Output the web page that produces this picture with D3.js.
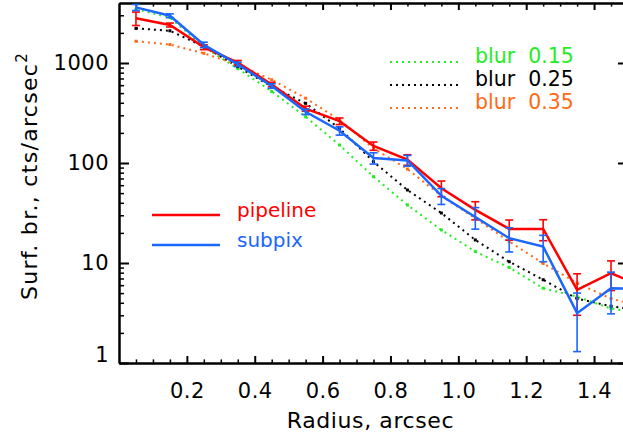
<!DOCTYPE html>
<html>
<head>
<meta charset="utf-8">
<script src="https://cdn.jsdelivr.net/npm/d3@7"></script>
<style>
  html, body { margin: 0; padding: 0; background: #fff; overflow: hidden; }
  text { font-family: "DejaVu Sans", sans-serif; }
</style>
</head>
<body>
<svg id="chart" width="623" height="436"></svg>
<script>
// Radial bin centres (arcsec)
const radius = [0.05, 0.15, 0.25, 0.35, 0.45, 0.55, 0.65, 0.75, 0.85, 0.95, 1.05, 1.15, 1.25, 1.35, 1.45, 1.55];

// Measured surface-brightness profiles with 1-sigma errors
const pipeline    = [2800, 2400, 1440, 1010, 610, 350, 262, 148, 108, 56, 34, 21.9, 21.9, 5.4, 7.9, 5.7];
const pipelineErr = [430, 110, 80, 50, 30, 20, 20, 14, 13, 10, 7, 5, 5.2, 2.4, 2.6, 2.5];
const subpix      = [3600, 2970, 1520, 970, 590, 325, 210, 112, 106, 47, 28.8, 17.7, 14.6, 3.15, 5.6, 5.5];
const subpixErr   = [250, 130, 95, 50, 30, 20, 20, 14.5, 13, 8.5, 7, 4.8, 4.3, 1.85, 2.5, 2.5];

// Model profiles for three blur widths
const blur015 = [3450, 2850, 1450, 880, 520, 290, 151, 73, 38, 21.4, 13, 9.0, 5.6, 4.6, 3.5, 3.1];
const blur025 = [2220, 2100, 1460, 920, 580, 395, 222, 103, 53.7, 31.6, 17, 10.3, 6.8, 4.4, 3.7, 3.3];
const blur035 = [1650, 1530, 1250, 960, 680, 445, 269, 140, 87, 46.8, 28, 16.4, 9.9, 6.3, 4.4, 3.6];

// Axis ticks and labels
const xTicks = [0.2, 0.4, 0.6, 0.8, 1.0, 1.2, 1.4];
const yTicks = [1, 10, 100, 1000];
const xTitle = "Radius, arcsec";
const yTitle = "Surf. br., cts/arcsec";

const colors = { pipeline: "#ff0000", subpix: "#1a66ff", b015: "#22ee22", b025: "#000000", b035: "#ff6a14" };

const svg = d3.select("#chart");
const L = 119, R = 628, T = 3, B = 363;

const x = d3.scaleLinear().domain([0, 1.5]).range([L, R]);
const y = d3.scaleLog().domain([1, Math.pow(10, 3.6)]).range([B, T]);

// minor tick positions
const xMinor = d3.range(0.05, 1.5, 0.05).map(v => +v.toFixed(2)).filter(v => !xTicks.some(t => Math.abs(t - v) < 1e-6));
const yMinor = [];
for (let e = 0; e < 4; e++) for (let m = 2; m <= 9; m++) { const v = m * Math.pow(10, e); if (v < y.domain()[1]) yMinor.push(v); }

function styleAxis(g, w) {
  g.select(".domain").attr("stroke", "#000").attr("stroke-width", 2);
  g.selectAll(".tick line").attr("stroke", "#000").attr("stroke-width", w);
  g.selectAll(".tick text").attr("fill", "#000").style("font-size", "21px").style("letter-spacing", "0.5px");
}

// bottom axis
svg.append("g").attr("transform", `translate(0,${B})`)
  .call(d3.axisBottom(x).tickValues(xMinor).tickSize(-3.6).tickSizeOuter(0).tickFormat(""))
  .call(g => styleAxis(g, 1.5));
svg.append("g").attr("transform", `translate(0,${B})`)
  .call(d3.axisBottom(x).tickValues(xTicks).tickSize(-7).tickSizeOuter(0).tickPadding(20).tickFormat(d3.format(".1f")))
  .call(g => styleAxis(g, 2));
// top axis
svg.append("g").attr("transform", `translate(0,${T})`)
  .call(d3.axisTop(x).tickValues(xMinor).tickSize(-3.6).tickSizeOuter(0).tickFormat(""))
  .call(g => styleAxis(g, 1.5));
svg.append("g").attr("transform", `translate(0,${T})`)
  .call(d3.axisTop(x).tickValues(xTicks).tickSize(-7).tickSizeOuter(0).tickFormat(""))
  .call(g => styleAxis(g, 2));
// left axis
svg.append("g").attr("transform", `translate(${L},0)`)
  .call(d3.axisLeft(y).tickValues(yMinor).tickSize(-5).tickSizeOuter(0).tickFormat(""))
  .call(g => styleAxis(g, 1.5));
svg.append("g").attr("transform", `translate(${L},0)`)
  .call(d3.axisLeft(y).tickValues(yTicks).tickSize(-10).tickSizeOuter(0).tickPadding(10).tickFormat(d3.format("d")))
  .call(g => styleAxis(g, 2))
  // the lowest label sits just above the corner
  .call(g => g.selectAll(".tick text").filter(d => d === 1).attr("dy", "-0.05em"));
// right axis
svg.append("g").attr("transform", `translate(${R},0)`)
  .call(d3.axisRight(y).tickValues(yMinor).tickSize(-5).tickSizeOuter(0).tickFormat(""))
  .call(g => styleAxis(g, 1.5));
svg.append("g").attr("transform", `translate(${R},0)`)
  .call(d3.axisRight(y).tickValues(yTicks).tickSize(-10).tickSizeOuter(0).tickFormat(""))
  .call(g => styleAxis(g, 2));

// axis titles
svg.append("text").attr("x", (L + 626) / 2 - 2).attr("y", 428)
  .attr("text-anchor", "middle").style("font-size", "22px").style("letter-spacing", "0.6px").text(xTitle);
const yt = svg.append("text").attr("transform", "translate(37,176) rotate(-90)")
  .attr("text-anchor", "middle").style("font-size", "22px").style("letter-spacing", "1.3px");
yt.append("tspan").text(yTitle);
yt.append("tspan").attr("dy", -10).style("font-size", "15px").text("2");

// plot region
svg.append("clipPath").attr("id", "plotClip").append("rect")
  .attr("x", L).attr("y", T).attr("width", R - L).attr("height", B - T);
const plot = svg.append("g").attr("clip-path", "url(#plotClip)");

const line = d3.line().x(d => x(d[0])).y(d => y(d[1]));

// model curves (dotted)
[[blur015, colors.b015], [blur025, colors.b025], [blur035, colors.b035]].forEach(([vals, c]) => {
  plot.append("path").datum(radius.map((r, i) => [r, vals[i]]))
    .attr("d", line).attr("fill", "none").attr("stroke", c)
    .attr("stroke-width", 2).attr("stroke-dasharray", "2,4");
  plot.selectAll(null).data(radius.map((r, i) => [r, vals[i]])).enter().append("rect")
    .attr("x", d => x(d[0]) - 1.5).attr("y", d => y(d[1]) - 1.5)
    .attr("width", 3).attr("height", 3).attr("fill", c);
});

// measured profiles with error bars
function profile(vals, errs, c) {
  const pts = radius.map((r, i) => ({ r, v: vals[i], e: errs[i] }));
  const eb = plot.append("g").attr("stroke", c).attr("stroke-width", 1.6).attr("fill", "none");
  pts.forEach(p => {
    const y0 = y(p.v - p.e), y1 = y(p.v + p.e), cx = x(p.r);
    eb.append("line").attr("x1", cx).attr("x2", cx).attr("y1", y0).attr("y2", y1);
    eb.append("line").attr("x1", cx - 4).attr("x2", cx + 4).attr("y1", y0).attr("y2", y0);
    eb.append("line").attr("x1", cx - 4).attr("x2", cx + 4).attr("y1", y1).attr("y2", y1);
  });
  plot.append("path").datum(pts.map(p => [p.r, p.v]))
    .attr("d", line).attr("fill", "none").attr("stroke", c).attr("stroke-width", 2.5);
}
profile(pipeline, pipelineErr, colors.pipeline);
profile(subpix, subpixErr, colors.subpix);

// legends
const legendA = [["blur  0.15", colors.b015, 62], ["blur  0.25", colors.b025, 85], ["blur  0.35", colors.b035, 108]];
legendA.forEach(([t, c, ly]) => {
  svg.append("line").attr("x1", 390).attr("x2", 458).attr("y1", ly).attr("y2", ly)
    .attr("stroke", c).attr("stroke-width", 2).attr("stroke-dasharray", "2,4");
  svg.append("text").attr("x", 475).attr("y", ly + 1).attr("fill", c)
    .style("font-size", "20.5px").style("white-space", "pre").text(t);
});
const legendB = [["pipeline", colors.pipeline, 215], ["subpix", colors.subpix, 245]];
legendB.forEach(([t, c, ly]) => {
  svg.append("line").attr("x1", 152).attr("x2", 220).attr("y1", ly).attr("y2", ly)
    .attr("stroke", c).attr("stroke-width", 2.5);
  svg.append("text").attr("x", 237).attr("y", ly + 2).attr("fill", c)
    .style("font-size", "20px").text(t);
});
</script>
</body>
</html>
